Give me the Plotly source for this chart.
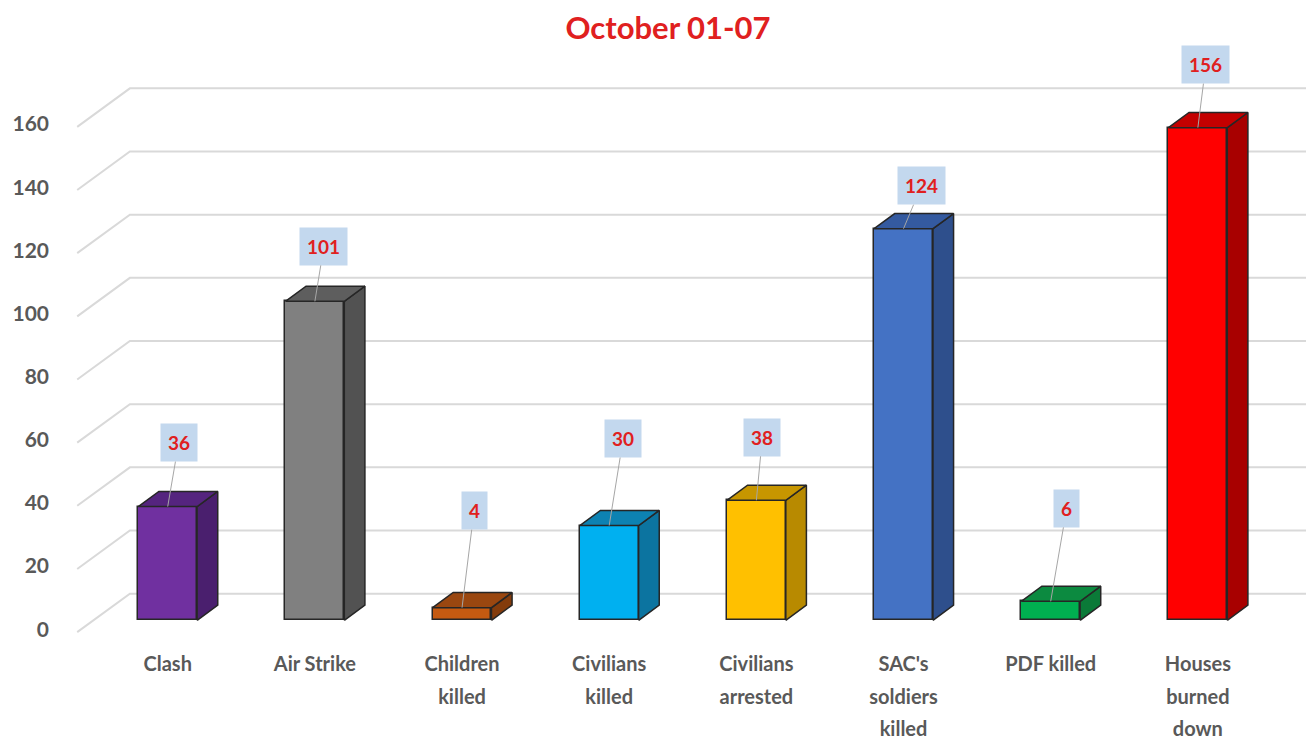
import plotly.graph_objects as go

# ---- data ----
categories = ["Clash", "Air Strike", "Children<br>killed", "Civilians<br>killed",
              "Civilians<br>arrested", "SAC's<br>soldiers<br>killed", "PDF killed",
              "Houses<br>burned<br>down"]
values = [36, 101, 4, 30, 38, 124, 6, 156]
y_ticks = [0, 20, 40, 60, 80, 100, 120, 140, 160]
title_text = "October 01-07"

# ---- styles ----
front_colors = ["#7030A0", "#808080", "#C55A11", "#00B0F0", "#FFC000", "#4472C4", "#00B050", "#FF0000"]
side_colors = ["#4A1F6E", "#525252", "#843C0C", "#0C74A0", "#B88A00", "#2E4F8C", "#0B7A38", "#A80000"]
top_colors = ["#55247F", "#5E5E5E", "#9A4710", "#0D82B2", "#C79600", "#345AA0", "#0C8A40", "#C40000"]
edge = "#262626"
# label offsets (pixels) from bar top to label box centre
label_dx = [11, 9, 12, 14, 6, 18, 16, 8]
label_dy = [-64, -55, -97, -87, -63, -43, -93, -63]

BAR_W = 0.4
DEPTH_X = 0.14   # category units
DEPTH_Y = 4.8    # value units
WALL_FRONT_X, WALL_FRONT_DY = -0.615, -3.75
WALL_BACK_X, WALL_BACK_DY = -0.257, 8.44
X_RANGE = [-0.63, 7.762]
Y_RANGE = [-7.19, 182.8]
LINE_GAP = 32.5
FIRST_STANDOFF = 7

x_pos = list(range(len(categories)))
fig = go.Figure()

# front faces
fig.add_trace(go.Bar(
    x=x_pos, y=values, width=BAR_W,
    marker=dict(color=front_colors, line=dict(color=edge, width=1.5)),
    hoverinfo="skip", showlegend=False,
))

# side and top faces derived from the values
for i, v in enumerate(values):
    xl = i - BAR_W / 2
    xr = i + BAR_W / 2
    fig.add_trace(go.Scatter(
        x=[xr, xr + DEPTH_X, xr + DEPTH_X, xr, xr],
        y=[0, DEPTH_Y, v + DEPTH_Y, v, 0],
        mode="lines", fill="toself", fillcolor=side_colors[i],
        line=dict(color=edge, width=1.5), hoverinfo="skip", showlegend=False,
    ))
    fig.add_trace(go.Scatter(
        x=[xl, xr, xr + DEPTH_X, xl + DEPTH_X, xl],
        y=[v, v, v + DEPTH_Y, v + DEPTH_Y, v],
        mode="lines", fill="toself", fillcolor=top_colors[i],
        line=dict(color=edge, width=1.5), hoverinfo="skip", showlegend=False,
    ))

# 3D gridlines (side wall + back wall)
shapes = []
for t in y_ticks:
    shapes.append(dict(
        type="path", xref="x", yref="y", layer="below",
        path=f"M {WALL_FRONT_X},{t + WALL_FRONT_DY} L {WALL_BACK_X},{t + WALL_BACK_DY} L {X_RANGE[1]},{t + WALL_BACK_DY}",
        line=dict(color="#D9D9D9", width=2),
    ))

# data labels with leader lines
annotations = []
for i, v in enumerate(values):
    annotations.append(dict(
        x=i, y=v, xref="x", yref="y", text=f"<b>{v}</b>",
        showarrow=True, arrowhead=0, arrowwidth=1, arrowcolor="#A6A6A6",
        ax=label_dx[i], ay=label_dy[i], standoff=0,
        bgcolor="#C3D8EE", borderpad=7,
        font=dict(family="Lato", size=19, color="#E02020"),
    ))

# category labels: one axis per text line (for Excel-like line spacing)
lines = [c.split("<br>") for c in categories]
n_lines = max(len(l) for l in lines)
axis_common = dict(range=X_RANGE, tickmode="array", tickvals=x_pos,
                   showgrid=False, zeroline=False, showline=False, ticks="",
                   tickfont=dict(family="Lato", size=20, color="#595959"))
layout_axes = {}
for k in range(n_lines):
    name = "xaxis" if k == 0 else f"xaxis{k + 1}"
    ax_def = dict(axis_common)
    ax_def["ticktext"] = [f"<b>{l[k]}</b>" if k < len(l) else "" for l in lines]
    ax_def["ticklabelstandoff"] = int(round(FIRST_STANDOFF + k * LINE_GAP))
    if k > 0:
        ax_def["overlaying"] = "x"
        ax_def["anchor"] = "y"
        ax_def["side"] = "bottom"
        ax_def["matches"] = "x"
    layout_axes[name] = ax_def
    if k > 0:
        fig.add_trace(go.Scatter(x=[x_pos[0]], y=[0], xaxis=f"x{k + 1}", mode="markers",
                                 marker=dict(opacity=0), hoverinfo="skip", showlegend=False))

fig.update_layout(
    width=1306, height=736,
    margin=dict(l=60, r=4, t=35, b=93),
    paper_bgcolor="white", plot_bgcolor="white",
    title=dict(text=f"<b>{title_text}</b>", x=0.5054, xref="container", xanchor="center",
               y=1 - 20 / 736, yref="container", yanchor="middle",
               font=dict(family="Lato", size=31, color="#E02020")),
    shapes=shapes, annotations=annotations, bargap=0,
    yaxis=dict(range=Y_RANGE, tickmode="array", tickvals=y_ticks,
               ticktext=[f"<b>{t}</b>" for t in y_ticks],
               showgrid=False, zeroline=False, showline=False, ticks="",
               ticklabelshift=9, ticklabelstandoff=25,
               tickfont=dict(family="Lato", size=21, color="#595959")),
    **layout_axes,
)

fig.write_html("out.html")
